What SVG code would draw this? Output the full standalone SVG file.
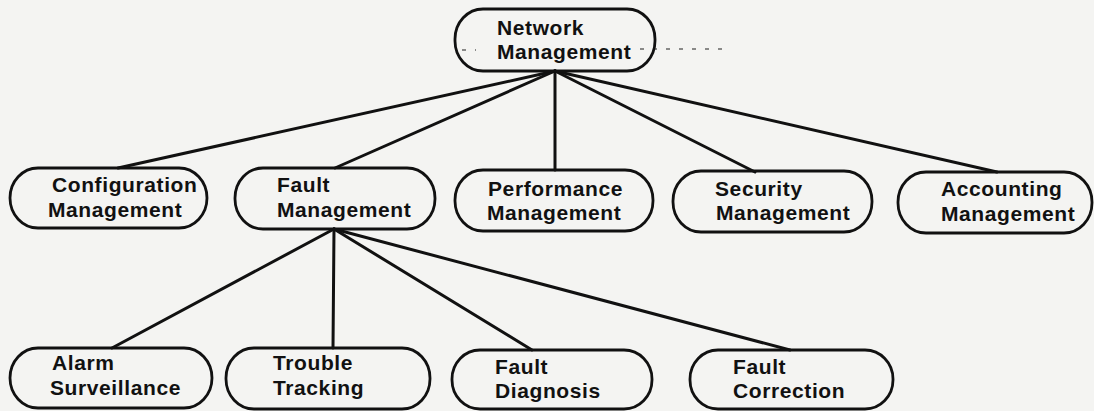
<svg xmlns="http://www.w3.org/2000/svg" width="1094" height="411" viewBox="0 0 1094 411">
<style>
.bg{fill:#f4f4f2}
.box{fill:none;stroke:#111;stroke-width:2.8}
.lbl{font-family:"Liberation Sans",Arial,sans-serif;font-weight:bold;font-size:21px;letter-spacing:0.6px;fill:#111}
.edge{stroke:#111;stroke-width:3;fill:none;stroke-linecap:round}
.scan{stroke:#666;stroke-width:1.5;stroke-dasharray:4 9;fill:none}
</style>
<rect class="bg" x="0" y="0" width="1094" height="411"/>
<g id="connectors">
<line class="edge" x1="555" y1="71" x2="118" y2="168"/>
<line class="edge" x1="555" y1="71" x2="335" y2="168"/>
<line class="edge" x1="555" y1="71" x2="555" y2="170"/>
<line class="edge" x1="555" y1="71" x2="755" y2="172"/>
<line class="edge" x1="555" y1="71" x2="997" y2="172"/>
<line class="edge" x1="334" y1="229" x2="112" y2="348"/>
<line class="edge" x1="334" y1="229" x2="333" y2="348"/>
<line class="edge" x1="334" y1="229" x2="532" y2="350"/>
<line class="edge" x1="334" y1="229" x2="790" y2="350"/>
</g>
<g id="scan-marks">
<line class="scan" x1="462" y1="50" x2="476" y2="50"/>
<line class="scan" x1="640" y1="49" x2="728" y2="49"/>
</g>
<g id="network-management">
<rect class="box" x="455" y="9" width="200" height="62" rx="28" ry="30"/>
<text class="lbl" x="497" y="35">Network</text>
<text class="lbl" x="497" y="59">Management</text>
</g>
<g id="configuration-management">
<rect class="box" x="10" y="168" width="197" height="60" rx="28" ry="30"/>
<text class="lbl" x="52" y="192">Configuration</text>
<text class="lbl" x="48" y="217">Management</text>
</g>
<g id="fault-management">
<rect class="box" x="235" y="168" width="200" height="61" rx="28" ry="30"/>
<text class="lbl" x="277" y="192">Fault</text>
<text class="lbl" x="277" y="217">Management</text>
</g>
<g id="performance-management">
<rect class="box" x="455" y="170" width="198" height="61" rx="28" ry="30"/>
<text class="lbl" x="488" y="196">Performance</text>
<text class="lbl" x="487" y="220">Management</text>
</g>
<g id="security-management">
<rect class="box" x="673" y="171" width="199" height="61" rx="28" ry="30"/>
<text class="lbl" x="715" y="196">Security</text>
<text class="lbl" x="716" y="220">Management</text>
</g>
<g id="accounting-management">
<rect class="box" x="898" y="172" width="194" height="61" rx="28" ry="30"/>
<text class="lbl" x="941" y="196">Accounting</text>
<text class="lbl" x="941" y="221">Management</text>
</g>
<g id="alarm-surveillance">
<rect class="box" x="10" y="348" width="202" height="60" rx="28" ry="30"/>
<text class="lbl" x="52" y="370">Alarm</text>
<text class="lbl" x="50" y="395">Surveillance</text>
</g>
<g id="trouble-tracking">
<rect class="box" x="226" y="348" width="204" height="61" rx="28" ry="30"/>
<text class="lbl" x="273" y="370">Trouble</text>
<text class="lbl" x="273" y="395">Tracking</text>
</g>
<g id="fault-diagnosis">
<rect class="box" x="452" y="350" width="200" height="59" rx="28" ry="29"/>
<text class="lbl" x="495" y="374">Fault</text>
<text class="lbl" x="495" y="398">Diagnosis</text>
</g>
<g id="fault-correction">
<rect class="box" x="690" y="350" width="203" height="59" rx="28" ry="29"/>
<text class="lbl" x="733" y="374">Fault</text>
<text class="lbl" x="733" y="398">Correction</text>
</g>
</svg>
